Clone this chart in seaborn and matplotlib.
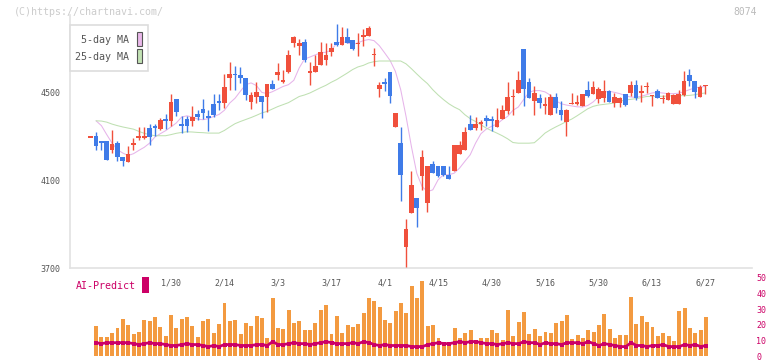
import numpy as np
import pandas as pd
import matplotlib
matplotlib.use('Agg')
import matplotlib.pyplot as plt
import seaborn as sns
from matplotlib.patches import Rectangle

# ------------------------------------------
# Data (8074, daily candles, index 0 = 1/30)
# ------------------------------------------
date_labels = ['1/30', '2/14', '3/3', '3/17', '4/1', '4/15', '4/30', '5/16', '5/30', '6/13', '6/27']
date_index = [0, 10, 20, 30, 40, 50, 60, 70, 80, 90, 100]

first_candle = -15
opens = [4299, 4305, 4282, 4282, 4241, 4274, 4209, 4185, 4261, 4298,
         4298, 4342, 4351, 4337, 4383, 4370, 4474, 4358, 4380, 4370,
         4405, 4428, 4396, 4450, 4465, 4453, 4567, 4588, 4582, 4570,
         4457, 4482, 4488, 4484, 4543, 4581, 4549, 4594, 4729, 4713,
         4733, 4591, 4594, 4630, 4652, 4689, 4733, 4721, 4756, 4744,
         4725, 4756, 4759, 4672, 4517, 4549, 4598, 4343, 4273, 3799,
         3951, 4023, 4119, 3997, 4177, 4165, 4169, 4127, 4142, 4223,
         4241, 4360, 4340, 4357, 4387, 4383, 4343, 4383, 4420, 4482,
         4498, 4703, 4552, 4462, 4479, 4439, 4401, 4484, 4424, 4366,
         4452, 4448, 4442, 4515, 4497, 4471, 4479, 4511, 4454, 4456,
         4497, 4500, 4538, 4504, 4528, 4487, 4511, 4473, 4470, 4451,
         4451, 4492, 4584, 4556, 4483, 4533]
highs = [4302, 4322, 4282, 4282, 4332, 4279, 4209, 4256, 4294, 4345,
         4345, 4360, 4360, 4384, 4405, 4497, 4474, 4393, 4393, 4442,
         4424, 4473, 4421, 4497, 4497, 4588, 4643, 4622, 4619, 4570,
         4503, 4552, 4488, 4543, 4561, 4637, 4607, 4698, 4762, 4748,
         4748, 4640, 4675, 4733, 4726, 4729, 4815, 4801, 4797, 4744,
         4774, 4793, 4808, 4706, 4549, 4569, 4598, 4410, 4345, 3926,
         4142, 4023, 4241, 4169, 4191, 4165, 4169, 4169, 4264, 4279,
         4343, 4401, 4390, 4375, 4401, 4396, 4431, 4447, 4549, 4520,
         4602, 4703, 4569, 4534, 4497, 4482, 4497, 4502, 4462, 4428,
         4502, 4492, 4497, 4553, 4553, 4529, 4561, 4515, 4500, 4482,
         4497, 4553, 4561, 4538, 4552, 4490, 4520, 4492, 4506, 4497,
         4515, 4602, 4611, 4556, 4538, 4538]
lows = [4297, 4238, 4238, 4195, 4226, 4188, 4165, 4183, 4238, 4287,
        4290, 4264, 4302, 4332, 4337, 4348, 4393, 4317, 4323, 4348,
        4378, 4381, 4325, 4390, 4424, 4431, 4512, 4512, 4546, 4470,
        4427, 4454, 4385, 4412, 4517, 4561, 4546, 4591, 4710, 4672,
        4640, 4535, 4594, 4630, 4630, 4671, 4713, 4721, 4726, 4695,
        4671, 4713, 4759, 4622, 4480, 4508, 4454, 4343, 4005, 3708,
        3951, 3890, 4058, 3959, 4137, 4116, 4119, 4108, 4142, 4223,
        4241, 4329, 4332, 4332, 4351, 4328, 4343, 4383, 4404, 4398,
        4498, 4439, 4476, 4401, 4430, 4402, 4401, 4410, 4375, 4306,
        4451, 4445, 4442, 4480, 4497, 4454, 4460, 4457, 4434, 4434,
        4442, 4488, 4470, 4457, 4500, 4442, 4476, 4453, 4470, 4451,
        4451, 4488, 4530, 4476, 4483, 4494]
closes = [4300, 4259, 4271, 4195, 4268, 4206, 4188, 4221, 4273, 4300,
          4301, 4297, 4340, 4378, 4372, 4460, 4412, 4348, 4348, 4389,
          4390, 4407, 4384, 4398, 4453, 4529, 4588, 4581, 4567, 4492,
          4492, 4506, 4457, 4543, 4517, 4594, 4561, 4675, 4756, 4726,
          4652, 4599, 4625, 4687, 4675, 4707, 4721, 4756, 4726, 4701,
          4728, 4764, 4797, 4680, 4535, 4543, 4485, 4410, 4124, 3880,
          4081, 3977, 4210, 4169, 4137, 4119, 4125, 4108, 4264, 4264,
          4323, 4332, 4360, 4369, 4370, 4370, 4378, 4424, 4484, 4488,
          4561, 4517, 4476, 4502, 4456, 4451, 4484, 4433, 4401, 4424,
          4454, 4460, 4497, 4488, 4529, 4520, 4511, 4457, 4484, 4479,
          4447, 4538, 4479, 4506, 4530, 4489, 4476, 4475, 4502, 4492,
          4497, 4556, 4553, 4503, 4529, 4535]

# moving averages, volume and AI-predict start one day later
first_bar = -14
ma5 = [4373, 4351, 4310, 4271, 4241, 4226, 4215, 4223, 4238, 4252,
       4271, 4299, 4314, 4328, 4345, 4363, 4390, 4396, 4390, 4381,
       4378, 4383, 4393, 4402, 4421, 4454, 4476, 4508, 4538, 4546,
       4534, 4503, 4497, 4506, 4518, 4530, 4538, 4558, 4614, 4655,
       4664, 4674, 4683, 4686, 4695, 4726, 4735, 4729, 4721, 4729,
       4739, 4744, 4739, 4716, 4683, 4649, 4599, 4515, 4393, 4256,
       4134, 4073, 4050, 4058, 4104, 4127, 4127, 4134, 4157, 4188,
       4218, 4271, 4314, 4335, 4348, 4358, 4378, 4393, 4421, 4436,
       4470, 4503, 4511, 4511, 4505, 4490, 4465, 4451, 4445, 4441,
       4437, 4436, 4443, 4459, 4482, 4503, 4508, 4503, 4497, 4488,
       4482, 4480, 4485, 4492, 4500, 4503, 4500, 4497, 4497, 4499,
       4506, 4515, 4523, 4527, 4530]
ma25 = [4373, 4372, 4367, 4358, 4351, 4345, 4340, 4335, 4325, 4316,
        4310, 4305, 4305, 4305, 4310, 4316, 4320, 4323, 4322, 4320,
        4319, 4317, 4317, 4317, 4329, 4345, 4360, 4370, 4379, 4388,
        4398, 4409, 4416, 4427, 4438, 4447, 4456, 4470, 4484, 4491,
        4500, 4512, 4524, 4535, 4549, 4561, 4576, 4591, 4607, 4619,
        4626, 4637, 4643, 4646, 4646, 4646, 4646, 4646, 4633, 4611,
        4587, 4564, 4543, 4515, 4491, 4470, 4451, 4436, 4424, 4401,
        4383, 4370, 4355, 4340, 4328, 4317, 4305, 4291, 4274, 4271,
        4271, 4271, 4273, 4294, 4317, 4332, 4345, 4357, 4370, 4381,
        4396, 4412, 4428, 4439, 4445, 4448, 4451, 4454, 4462, 4468,
        4471, 4474, 4479, 4484, 4485, 4485, 4485, 4486, 4488, 4488,
        4488, 4489, 4492, 4497, 4500]
volume = [19.4, 11.9, 11.9, 15.0, 18.1, 23.8, 20.0, 13.8, 15.6, 23.1,
          22.5, 25.0, 18.8, 12.5, 26.3, 18.1, 23.8, 25.0, 19.4, 11.9,
          22.5, 23.8, 15.0, 20.6, 33.8, 22.5, 23.1, 13.8, 21.3, 19.4,
          25.6, 24.4, 11.3, 36.9, 18.1, 17.5, 29.4, 21.3, 22.5, 16.9,
          16.9, 21.3, 29.4, 32.5, 13.8, 25.6, 14.4, 20.0, 18.8, 20.6,
          27.5, 36.9, 35.0, 31.3, 23.1, 21.3, 28.8, 33.8, 27.5, 44.8,
          36.9, 47.9, 19.4, 20.0, 11.3, 8.8, 8.8, 18.1, 11.7, 14.4,
          16.9, 8.8, 11.3, 11.3, 16.9, 15.0, 10.0, 29.4, 12.5, 21.9,
          28.1, 13.8, 17.5, 12.5, 15.6, 14.4, 21.3, 22.5, 26.3, 10.6,
          13.1, 11.3, 16.9, 15.6, 20.0, 26.9, 17.5, 11.3, 13.1, 13.1,
          37.5, 20.6, 25.6, 21.9, 18.8, 12.5, 14.4, 12.5, 9.4, 28.8,
          30.6, 18.1, 14.4, 16.9, 25.0]
ai_predict = [8.5, 7.9, 8.5, 8.5, 8.5, 8.5, 8.5, 7.9, 7.3, 7.9,
              8.5, 7.9, 7.9, 7.3, 6.7, 6.7, 7.3, 7.9, 7.3, 7.3,
              6.7, 6.0, 6.7, 6.0, 7.3, 7.3, 7.3, 6.7, 6.7, 6.7,
              7.3, 7.3, 6.7, 9.2, 7.3, 7.3, 7.9, 8.5, 7.9, 7.9,
              7.3, 7.9, 8.5, 9.2, 8.5, 7.9, 7.9, 7.9, 8.5, 7.9,
              9.2, 8.5, 7.3, 6.7, 7.3, 6.7, 6.7, 6.7, 6.7, 6.0,
              6.0, 6.0, 7.3, 7.9, 8.5, 7.9, 7.9, 8.5, 9.2, 8.5,
              9.2, 9.2, 8.5, 7.9, 7.9, 7.3, 7.9, 8.5, 7.9, 7.9,
              9.2, 8.5, 8.5, 7.3, 8.5, 7.9, 7.9, 7.3, 8.5, 8.5,
              8.5, 7.9, 9.2, 7.9, 6.7, 7.9, 7.3, 6.7, 6.0, 6.0,
              8.5, 6.7, 6.7, 6.0, 6.7, 6.7, 7.3, 6.0, 6.0, 6.0,
              7.3, 6.7, 7.3, 6.0, 6.7]

candles = pd.DataFrame({'open': opens, 'high': highs, 'low': lows, 'close': closes})
candles['x'] = np.arange(len(candles)) + first_candle
daily = pd.DataFrame({'ma5': ma5, 'ma25': ma25, 'volume': volume, 'ai': ai_predict})
daily['x'] = np.arange(len(daily)) + first_bar

# ------------------------------------------
# Styling / layout
# ------------------------------------------
sns.set_style('white')
plt.rcParams['font.family'] = ['DejaVu Sans Mono', 'DejaVu Sans']

RED = '#f0503c'
BLUE = '#3f7be8'
ORANGE = '#f39a40'
MAGENTA = '#cc0066'
GRID = '#e2e2e2'
TEXT = '#555555'

W, H = 772, 361
fig = plt.figure(figsize=(W / 100, H / 100), dpi=100)

def fbox(x0, y0, x1, y1):
    # pixel box (top-left origin) -> figure fraction rect
    return [x0 / W, 1 - y1 / H, (x1 - x0) / W, (y1 - y0) / H]

ax = fig.add_axes(fbox(70, 15, 752, 268.3))
axv = fig.add_axes(fbox(70, 277.7, 752, 356))

px_per_day = 5.35
xlim = ((70 - 171) / px_per_day, (752 - 171) / px_per_day)

# --- candles ---
up = candles['close'] >= candles['open']
colors = np.where(up, RED, BLUE)
body_lo = candles[['open', 'close']].min(axis=1)
body_h = (candles['close'] - candles['open']).abs()
min_h = 7
body_lo = np.where(body_h < min_h, (candles['open'] + candles['close']) / 2 - min_h / 2, body_lo)
body_h = np.maximum(body_h, min_h)

ax.vlines(candles['x'], candles['low'], candles['high'], colors=colors, linewidth=1.0, zorder=3)
ax.bar(candles['x'], body_h, bottom=body_lo, width=0.88, color=colors, linewidth=0, zorder=4)

# --- moving averages ---
sns.lineplot(data=daily, x='x', y='ma5', ax=ax, color='#e6b4ea', linewidth=0.75, zorder=2)
sns.lineplot(data=daily, x='x', y='ma25', ax=ax, color='#bfe0b2', linewidth=0.75, zorder=2)

ax.set_xlim(*xlim)
ax.set_ylim(3700, 3700 + (268.3 - 15) * 800 / 175.3)
ax.set_xlabel('')
ax.set_ylabel('')
for s in ['top', 'right']:
    ax.spines[s].set_visible(False)
for s in ['left', 'bottom']:
    ax.spines[s].set_color(GRID)
    ax.spines[s].set_linewidth(1.2)

ax.set_yticks([3700, 4100, 4500])
ax.set_yticklabels(['3700', '4100', '4500'])
ax.tick_params(axis='y', direction='inout', length=6, width=1, color=GRID,
               labelsize=6, labelcolor=TEXT, pad=4)

ax.set_xticks(date_index)
ax.set_xticklabels(date_labels)
ax.tick_params(axis='x', which='major', length=0, labelsize=6, labelcolor=TEXT, pad=7.5)
grid_start = (132.7 - 171) / px_per_day
ax.set_xticks(np.arange(grid_start, xlim[1] + 0.5, 62 / px_per_day), minor=True)
ax.tick_params(axis='x', which='minor', direction='inout', length=6, width=1, color=GRID)

# --- volume + AI predict ---
axv.bar(daily['x'], daily['volume'], width=0.74, color=ORANGE, linewidth=0, zorder=2)
sns.lineplot(data=daily, x='x', y='ai', ax=axv, color=MAGENTA, linewidth=2.0,
             marker='s', markersize=2.6, markeredgewidth=0, zorder=3)
axv.set_xlim(*xlim)
axv.set_ylim(0, 50)
axv.set_xlabel('')
axv.set_ylabel('')
axv.set_xticks([])
axv.yaxis.tick_right()
axv.set_yticks([0, 10, 20, 30, 40, 50])
axv.tick_params(axis='y', length=0, pad=3, labelsize=6, labelcolor=MAGENTA)
for s in axv.spines.values():
    s.set_visible(False)
axv.patch.set_alpha(0)

# --- legend box ---
fig.add_artist(Rectangle((70 / W, 1 - 71 / H), 78 / W, 46 / H, transform=fig.transFigure,
                         facecolor='white', edgecolor='#dddddd', linewidth=1.2, zorder=10))
fig.text(129 / W, 1 - 40 / H, '5-day MA', ha='right', va='center', fontsize=7.2,
         color=TEXT, zorder=11)
fig.text(129 / W, 1 - 57 / H, '25-day MA', ha='right', va='center', fontsize=7.2,
         color=TEXT, zorder=11)
fig.add_artist(Rectangle((136.7 / W, 1 - 46 / H), 5.8 / W, 14.5 / H, transform=fig.transFigure,
                         facecolor='#eab8ea', edgecolor='#555555', linewidth=0.8, zorder=11))
fig.add_artist(Rectangle((136.7 / W, 1 - 63 / H), 5.8 / W, 14.5 / H, transform=fig.transFigure,
                         facecolor='#c2e2b4', edgecolor='#555555', linewidth=0.8, zorder=11))

# --- AI-Predict label ---
fig.text(76 / W, 1 - 286 / H, 'AI-Predict', ha='left', va='center', fontsize=7.2, color=MAGENTA)
fig.add_artist(Rectangle((142 / W, 1 - 293 / H), 7 / W, 16 / H, transform=fig.transFigure,
                         facecolor=MAGENTA, edgecolor='none'))

# --- header texts ---
fig.text(14 / W, 1 - 12 / H, '(C)https://chartnavi.com/', ha='left', va='center',
         fontsize=7.2, color='#cccccc')
fig.text(757 / W, 1 - 12 / H, '8074', ha='right', va='center', fontsize=7, color='#bbbbbb')

fig.savefig('out.png', dpi=100)
